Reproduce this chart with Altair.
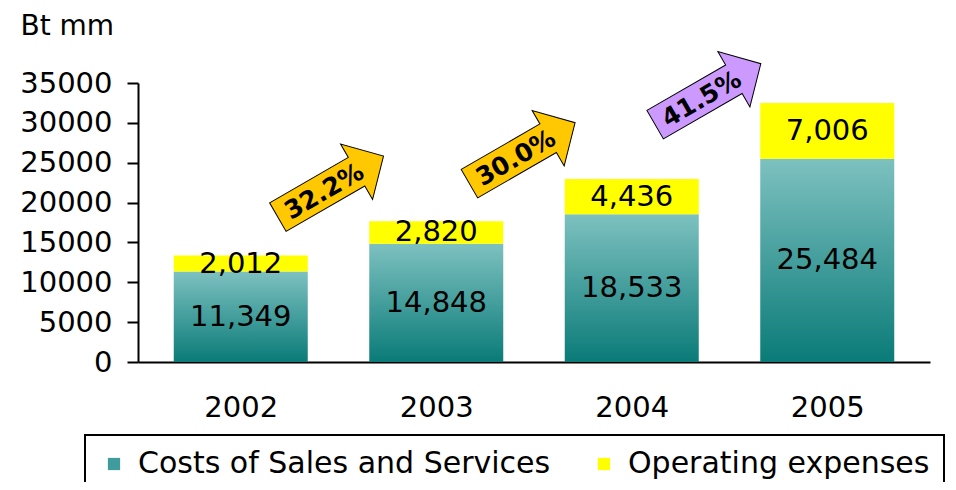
import altair as alt
import pandas as pd

# ---- data ----
years = [2002, 2003, 2004, 2005]
costs = [11349, 14848, 18533, 25484]
opex = [2012, 2820, 4436, 7006]

series_names = ["Costs of Sales and Services", "Operating expenses"]
series_colors = ["#409c9a", "#ffff00"]

growth_labels = ["32.2%", "30.0%", "41.5%"]
growth_x = [2002.46, 2003.44, 2004.39]
growth_y = [22000, 26200, 33600]
growth_colors = ["#ffc800", "#ffc800", "#cc99ff"]

y_ticks = [0, 5000, 10000, 15000, 20000, 25000, 30000, 35000]

FONT = "DejaVu Sans"
ARROW = "M -1 -0.27 L 0.49 -0.27 L 0.49 -0.525 L 1 0 L 0.49 0.525 L 0.49 0.27 L -1 0.27 Z"

bars = pd.DataFrame({"year": years, "cost": costs, "opex": opex})
arrows = pd.DataFrame({"gx": growth_x, "gy": growth_y, "label": growth_labels, "fill": growth_colors})
legend_df = pd.DataFrame({
    "year": years * 2,
    "value": costs + opex,
    "series": [series_names[0]] * 4 + [series_names[1]] * 4,
})

x_scale = alt.Scale(domain=[2001.5, 2005.5], nice=False, zero=False)
y_scale = alt.Scale(domain=[0, 35000], nice=False)

x_axis = alt.Axis(values=years, format="d", title=None, ticks=False, tickSize=0, grid=False,
                  labelPadding=31, labelFontSize=29, labelColor="black",
                  domainColor="black", domainWidth=2, labelFont=FONT)
y_axis = alt.Axis(values=y_ticks, format="d", title="Bt mm", grid=False,
                  tickSize=11, tickWidth=2, tickColor="black",
                  domainColor="black", domainWidth=2,
                  labelPadding=15, labelFontSize=29, labelColor="black", labelFont=FONT,
                  titleAngle=0, titleAlign="left", titleBaseline="alphabetic",
                  titleX=-118, titleY=-49, titleFontSize=28, titleFontWeight="normal",
                  titleColor="black", titleFont=FONT)


def X(field):
    return alt.X(field, scale=x_scale, axis=x_axis)


def Y(field):
    return alt.Y(field, scale=y_scale, axis=y_axis)


base = alt.Chart(bars).transform_calculate(
    top="datum.cost + datum.opex",
    base0="0",
    mid_cost="datum.cost / 2",
    mid_opex="datum.cost + datum.opex / 2",
)

teal_grad = alt.Gradient(
    gradient="linear",
    stops=[alt.GradientStop(color="#7dc1c0", offset=0),
           alt.GradientStop(color="#0a7b78", offset=1)],
    x1=0, x2=0, y1=0, y2=1,
)

teal = base.mark_bar(size=134, color=teal_grad).encode(
    x=X("year:Q"), y=Y("cost:Q"), y2=alt.Y2("base0:Q"),
)

yellow = base.mark_bar(size=134, color="#ffff00").encode(
    x=X("year:Q"), y=Y("top:Q"), y2=alt.Y2("cost:Q"),
)

cost_text = base.mark_text(fontSize=29, font=FONT, color="black", baseline="middle").encode(
    x=X("year:Q"), y=Y("mid_cost:Q"), text=alt.Text("cost:Q", format=","),
)

opex_text = base.mark_text(fontSize=29, font=FONT, color="black", baseline="middle").encode(
    x=X("year:Q"), y=Y("mid_opex:Q"), text=alt.Text("opex:Q", format=","),
)

arrow_shapes = alt.Chart(arrows).mark_point(
    shape=ARROW, size=14884, filled=True, stroke="black", strokeWidth=1, angle=330, opacity=1
).encode(
    x=X("gx:Q"), y=Y("gy:Q"), fill=alt.Fill("fill:N", scale=None),
)

arrow_text = alt.Chart(arrows).mark_text(
    angle=330, fontSize=25, fontWeight="bold", font=FONT, color="black",
    align="center", baseline="middle", dx=-8, dy=1
).encode(
    x=X("gx:Q"), y=Y("gy:Q"), text="label:N",
)

legend_layer = alt.Chart(legend_df).mark_square(opacity=0, size=1).encode(
    x=X("year:Q"), y=Y("value:Q"),
    color=alt.Color("series:N",
                    scale=alt.Scale(domain=series_names, range=series_colors),
                    legend=alt.Legend(title=None, orient="none", legendX=-53, legendY=352,
                                      direction="horizontal", symbolType="square",
                                      symbolSize=150, symbolOpacity=1, symbolStrokeWidth=0,
                                      symbolOffset=0, labelFontSize=30, labelFont=FONT,
                                      labelColor="black", labelOffset=9, labelLimit=700,
                                      columnPadding=38, padding=14, strokeColor="black")),
)

chart = alt.layer(teal, yellow, cost_text, opex_text, legend_layer, arrow_shapes, arrow_text).properties(
    width=792, height=279,
    autosize=alt.AutoSizeParams(type="none"),
    padding={"left": 130, "top": 75, "right": 18, "bottom": 120},
).configure(font=FONT).configure_view(stroke=None).configure_legend(strokeWidth=2)

chart.save("out.html", embed_options={"renderer": "svg", "actions": False})
